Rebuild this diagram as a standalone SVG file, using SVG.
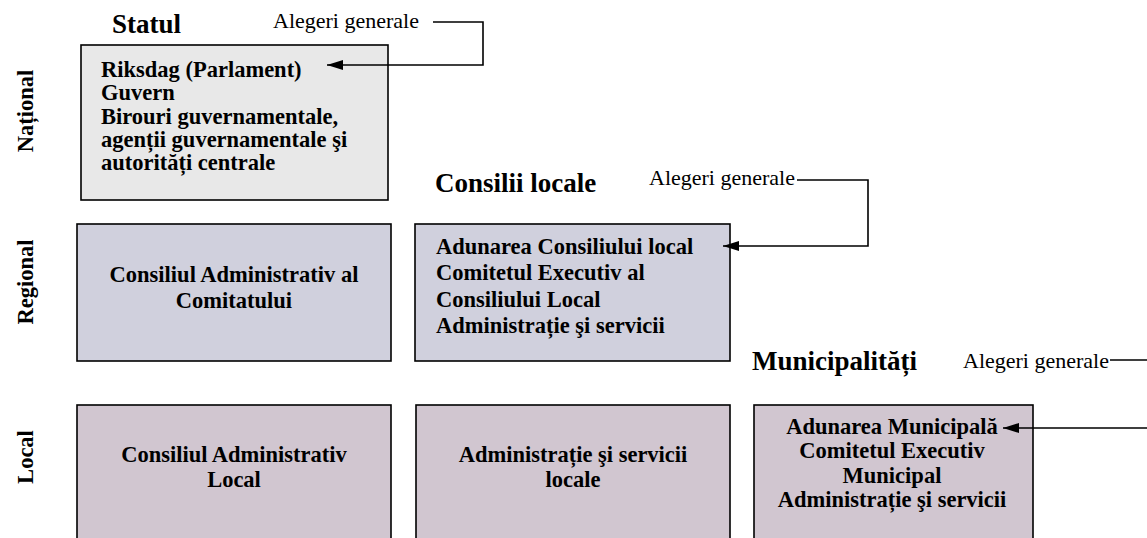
<svg xmlns="http://www.w3.org/2000/svg" width="1147" height="538" viewBox="0 0 1147 538">
<style>
text{font-family:"Liberation Serif","Times New Roman",serif;fill:#000}
.b{font-weight:bold;font-size:22.5px}
.h{font-weight:bold;font-size:27px}
.e{font-size:22px}
.c{text-anchor:middle}
.box{stroke:#000;stroke-width:1.6}
.nat{fill:#e8e8e8}
.reg{fill:#d0d0dd}
.loc{fill:#d1c6d0}
.conn{fill:none;stroke:#000;stroke-width:1.6}
</style>
<defs>
<marker id="arr" markerUnits="userSpaceOnUse" markerWidth="17" markerHeight="11" refX="16" refY="5" orient="auto">
<path d="M0,0 L16,5 L0,10 z" fill="#000"/>
</marker>
</defs>
<rect width="1147" height="538" fill="#fff"/>
<g id="levels">
<text class="b c" transform="translate(33,111) rotate(-90)">Național</text>
<text class="b c" transform="translate(33,282) rotate(-90)">Regional</text>
<text class="b c" transform="translate(33,457) rotate(-90)">Local</text>
</g>
<g id="headers">
<text class="h" x="112" y="33">Statul</text>
<text class="h" x="435" y="192">Consilii locale</text>
<text class="h" x="752" y="370">Municipalități</text>
<text class="e" x="273" y="28">Alegeri generale</text>
<text class="e" x="649" y="185">Alegeri generale</text>
<text class="e" x="963" y="368">Alegeri generale</text>
</g>
<g id="node-national">
<rect class="box nat" x="81" y="45" width="307" height="155"/>
<text class="b" x="101" y="77">Riksdag (Parlament)</text>
<text class="b" x="101" y="100">Guvern</text>
<text class="b" x="101" y="124">Birouri guvernamentale,</text>
<text class="b" x="101" y="147">agenții guvernamentale şi</text>
<text class="b" x="101" y="170">autorități centrale</text>
</g>
<g id="node-county-admin">
<rect class="box reg" x="77" y="224" width="314" height="137"/>
<text class="b c" x="234" y="282">Consiliul Administrativ al</text>
<text class="b c" x="234" y="308">Comitatului</text>
</g>
<g id="node-county-council">
<rect class="box reg" x="415" y="224" width="315" height="137"/>
<text class="b" x="436" y="254">Adunarea Consiliului local</text>
<text class="b" x="436" y="280">Comitetul Executiv al</text>
<text class="b" x="436" y="307">Consiliului Local</text>
<text class="b" x="436" y="333">Administrație şi servicii</text>
</g>
<g id="node-local-admin">
<rect class="box loc" x="77" y="405" width="314" height="145"/>
<text class="b c" x="234" y="462">Consiliul Administrativ</text>
<text class="b c" x="234" y="487">Local</text>
</g>
<g id="node-local-services">
<rect class="box loc" x="416" y="405" width="314" height="145"/>
<text class="b c" x="573" y="462">Administrație şi servicii</text>
<text class="b c" x="573" y="487">locale</text>
</g>
<g id="node-municipal">
<rect class="box loc" x="754" y="405" width="279" height="145"/>
<text class="b c" x="892" y="434">Adunarea Municipală</text>
<text class="b c" x="892" y="458">Comitetul Executiv</text>
<text class="b c" x="892" y="483">Municipal</text>
<text class="b c" x="892" y="507">Administrație şi servicii</text>
</g>
<g id="connectors">
<path class="conn" d="M433,22 H483 V65 H327" marker-end="url(#arr)"/>
<path class="conn" d="M797,180 H868 V246 H723" marker-end="url(#arr)"/>
<path class="conn" d="M1110,360 H1160 V428 H1003" marker-end="url(#arr)"/>
</g>
</svg>
